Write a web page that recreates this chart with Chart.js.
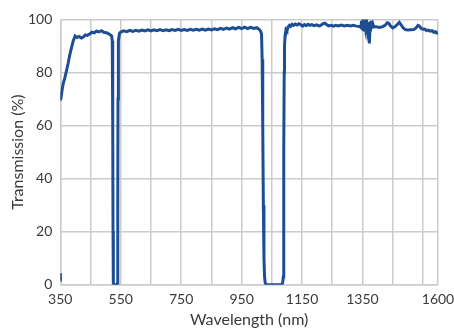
<!DOCTYPE html>
<html>
<head>
<meta charset="utf-8">
<script src="https://cdn.jsdelivr.net/npm/chart.js@4.4.1/dist/chart.umd.min.js"></script>
<style>
  html, body { margin: 0; padding: 0; background: #ffffff; }
  #wrap { width: 454px; height: 329px; position: relative; }
</style>
</head>
<body>
<div id="wrap"><canvas id="c" width="454" height="329"></canvas></div>
<script>
// ---- data ----
const wavelength = [
  350, 350.4, 350.7,
  351, 353, 356, 360, 365, 370, 376, 382, 388, 393, 399, 405, 412, 420, 426, 433, 440, 448, 455, 462, 470, 478, 486, 494, 503, 510, 516, 520,
  522, 523.5, 524.5, 525, 526, 528, 537, 539, 540, 540.5, 541, 541.5, 543, 546,
  550, 560, 570, 580, 590, 600, 610, 620, 630, 640, 650, 660, 670, 680, 690, 700, 710, 720, 730, 740,
  750, 760, 770, 780, 790, 800, 810, 820, 830, 840, 850, 860, 870, 880, 890, 900, 910, 920, 930, 940,
  950, 960, 970, 980, 990, 1000, 1008, 1013,
  1016, 1018, 1020, 1022, 1024, 1026, 1028, 1031, 1083, 1086, 1088, 1089, 1090, 1091, 1092, 1094,
  1097, 1100, 1104, 1108, 1112, 1117, 1122, 1128, 1134, 1140, 1146, 1152, 1158, 1164, 1170, 1176, 1182, 1190, 1198, 1206,
  1212, 1220, 1226, 1232, 1238, 1246, 1254, 1262, 1270, 1280, 1290, 1300, 1310, 1320, 1330, 1340,
  1345, 1347, 1350, 1352, 1355, 1358, 1360, 1363, 1366, 1369, 1371, 1373, 1375, 1378, 1381, 1384, 1388,
  1395, 1405, 1415, 1425, 1432, 1437, 1443, 1450, 1458, 1466, 1472, 1478, 1485, 1492, 1500, 1510, 1520,
  1528, 1534, 1538, 1544, 1550, 1556, 1562, 1568, 1574, 1580, 1586, 1592, 1596, 1600
];
const transmission = [
  1.8, 4.3, null,
  69.5, 71, 73.5, 76, 78, 80.5, 83.5, 87, 89.8, 92, 93.8, 93.2, 93.6, 93.0, 93.4, 94.2, 94.0, 94.6, 95.2, 95.0, 95.6, 95.3, 95.8, 95.2, 95.0, 94.6, 94.2, 93.8,
  92, 60, 20, 3, 0.5, 0, 0, 0.5, 3, 30, 70, 88, 92, 94.8,
  95.3, 95.7, 95.4, 95.9, 95.5, 95.9, 95.6, 96.0, 95.7, 96.1, 95.7, 96.1, 95.8, 96.2, 95.8, 96.1, 95.8, 96.2, 95.9, 96.3,
  95.9, 96.2, 95.9, 96.3, 96.0, 96.3, 96.0, 96.4, 96.0, 96.4, 96.1, 96.5, 96.2, 96.7, 96.3, 96.8, 96.4, 96.9, 96.5, 97.0,
  96.6, 97.1, 96.6, 97.0, 96.6, 96.9, 96.3, 95.6,
  94.5, 85, 60, 30, 10, 3, 0.8, 0, 0, 0.8, 3, 15, 50, 80, 90, 94,
  96.2, 95.8, 97.2, 97.8, 97.4, 98.2, 97.8, 98.3, 97.9, 98.4, 98.0, 97.5, 98.1, 97.7, 98.2, 97.8, 98.1, 97.7, 98.0, 97.6,
  97.8, 98.4, 98.6, 98.0, 97.6, 97.8, 97.5, 97.8, 97.6, 97.9, 97.6, 97.8, 97.6, 97.8, 97.5, 97.4,
  97.0, 99.5, 96.0, 100.5, 95.5, 99.8, 97.5, 100.5, 96.5, 99.0, 94.0, 91.0, 97.0, 99.5, 97.5, 98.5, 97.2,
  97.3, 97.0, 97.2, 97.8, 98.8, 98.6, 97.5, 96.8, 97.3, 98.2, 98.9, 98.0, 96.8, 96.2, 96.0, 96.1, 96.2,
  96.9, 97.8, 97.6, 96.7, 96.3, 96.4, 95.8, 96.0, 95.6, 95.8, 95.2, 95.4, 94.9, 95.0
];
const xTickValues = [350, 450, 550, 650, 750, 850, 950, 1050, 1150, 1250, 1350, 1450, 1550, 1600];
const xTickLabels = [350, 550, 750, 950, 1150, 1350, 1600];
const yTickValues = [0, 20, 40, 60, 80, 100];
const xTitle = 'Wavelength (nm)';
const yTitle = 'Transmission (%)';

const points = wavelength.map((w, i) => ({ x: w, y: transmission[i] }));

const FONT = 'Lato, "Open Sans", sans-serif';
const GRID = '#cccccc';
const TEXT = '#3a3a3a';

function draw() {
  new Chart(document.getElementById('c'), {
    type: 'line',
    data: {
      datasets: [{
        data: points,
        borderColor: '#1d4e94',
        borderWidth: 3,
        pointRadius: 0,
        tension: 0,
        spanGaps: false,
        fill: false
      }]
    },
    options: {
      responsive: false,
      animation: false,
      events: [],
      layout: { padding: { left: 0, right: 16, top: 19.5, bottom: 0 } },
      plugins: { legend: { display: false }, tooltip: { enabled: false } },
      scales: {
        x: {
          type: 'linear',
          min: 350,
          max: 1600,
          afterBuildTicks: (s) => { s.ticks = xTickValues.map(v => ({ value: v })); },
          afterFit: (s) => { s.height = 44.3; s.paddingLeft = 0; s.paddingRight = 0; },
          grid: { color: GRID, lineWidth: 1.5, drawTicks: false },
          border: { color: GRID, width: 1.5 },
          ticks: {
            autoSkip: false,
            maxRotation: 0,
            padding: 6,
            color: TEXT,
            font: { family: FONT, size: 14 },
            callback: (v) => xTickLabels.includes(v) ? String(v) : ''
          },
          title: {
            display: true,
            text: xTitle,
            color: TEXT,
            font: { family: FONT, size: 16 },
            padding: { top: 0, bottom: 0 }
          }
        },
        y: {
          min: 0,
          max: 100,
          afterBuildTicks: (s) => { s.ticks = yTickValues.map(v => ({ value: v })); },
          afterFit: (s) => { s.width = 60.3; s.paddingTop = 0; s.paddingBottom = 0; },
          grid: { color: GRID, lineWidth: 1.5, drawTicks: false },
          border: { color: GRID, width: 1.5 },
          ticks: {
            padding: 8,
            color: TEXT,
            font: { family: FONT, size: 14 }
          },
          title: {
            display: true,
            text: yTitle,
            color: TEXT,
            font: { family: FONT, size: 16 },
            padding: { top: 8, bottom: 0 }
          }
        }
      }
    }
  });
}
if (document.fonts && document.fonts.load) {
  Promise.all([document.fonts.load('14px Lato'), document.fonts.load('16px Lato')]).then(draw, draw);
} else { draw(); }
</script>
</body>
</html>
